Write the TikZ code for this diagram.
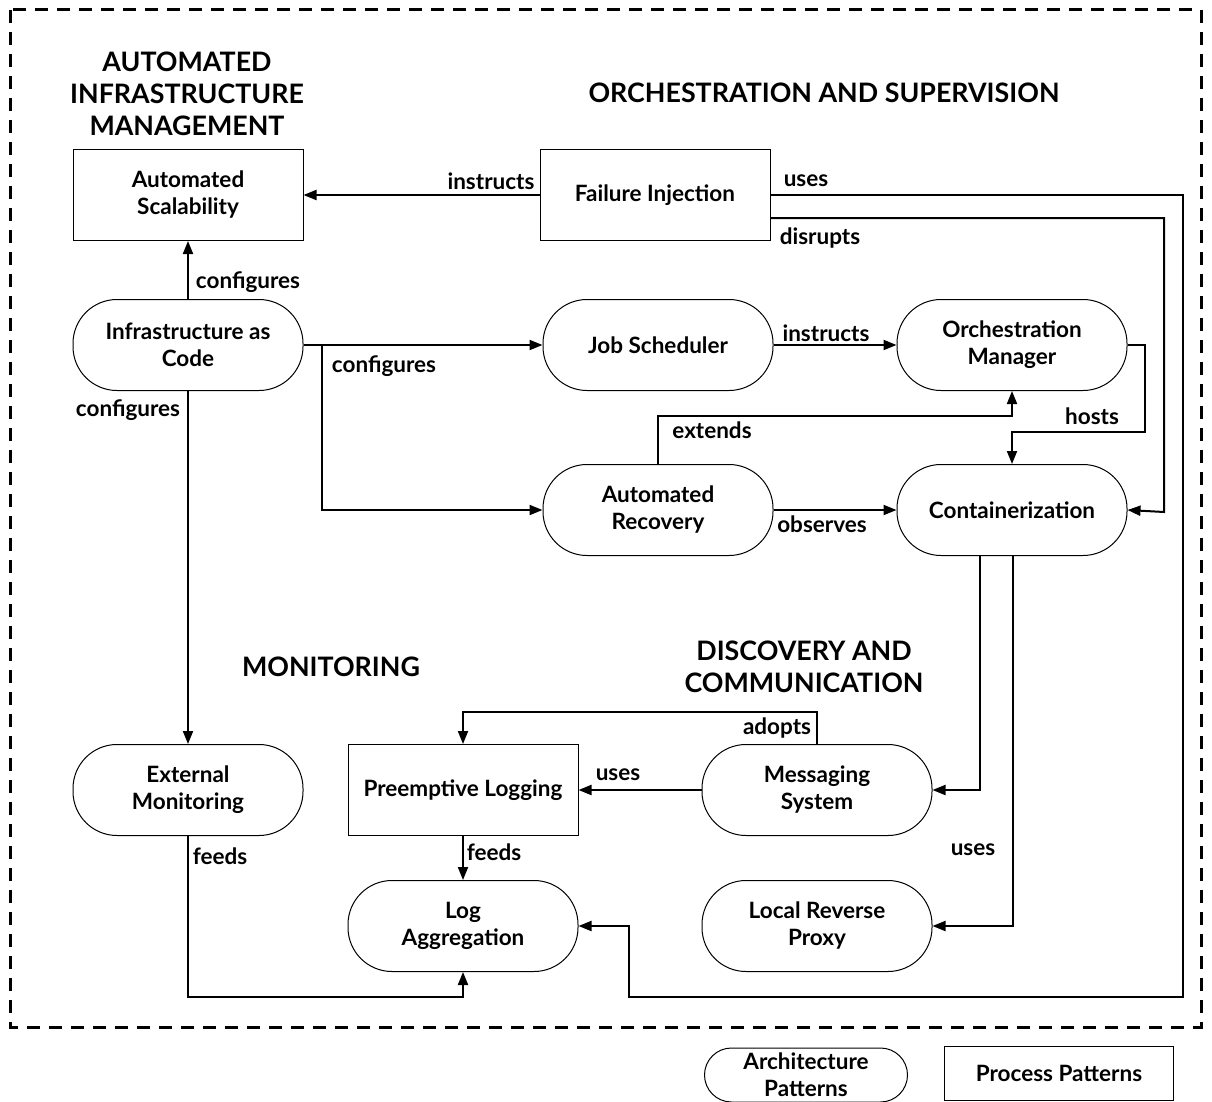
\documentclass[tikz,border=0pt]{standalone}
\usepackage{fontspec}
\setmainfont{Lato}
\usetikzlibrary{arrows.meta}
\begin{document}
\begin{tikzpicture}[x=1pt,y=-1pt,
  arch/.style={draw, line width=1pt, rounded corners=44pt, minimum width=230pt,
    minimum height=91pt, align=center, inner sep=2pt,
    font=\fontsize{22.5}{27}\selectfont\bfseries},
  proc/.style={draw, line width=1pt, minimum width=230pt, minimum height=91pt,
    align=center, inner sep=2pt, font=\fontsize{22.5}{27}\selectfont\bfseries},
  lbl/.style={inner sep=0pt, font=\fontsize{22.5}{27}\selectfont\bfseries},
  ttl/.style={align=center, inner sep=0pt, font=\fontsize{26.8}{32}\selectfont\bfseries},
  conn/.style={line width=2pt, -{Triangle[length=13pt,width=10pt]}}
]
\useasboundingbox (0,0) rectangle (1212,1102);

% outer dashed frame
\draw[line width=3pt, dash pattern=on 13pt off 9pt] (10,10) rectangle (1201,1027);

% group titles
\node[ttl] (tAIM) at (187,94) {AUTOMATED\\INFRASTRUCTURE\\MANAGEMENT};
\node[ttl] (tOS) at (824,93) {ORCHESTRATION AND SUPERVISION};
\node[ttl] (tMON) at (331,667) {MONITORING};
\node[ttl] (tDC) at (804,667) {DISCOVERY AND\\COMMUNICATION};

% pattern nodes
\node[proc] (as) at (188,195) {Automated\\Scalability};
\node[proc] (fi) at (655,195) {Failure Injection};
\node[arch] (iac) at (188,345) {Infrastructure as\\Code};
\node[arch] (js) at (658,345) {Job Scheduler};
\node[arch] (om) at (1012,345) {Orchestration\\Manager};
\node[arch] (ar) at (658,510) {Automated\\Recovery};
\node[arch] (co) at (1012,510) {Containerization};
\node[arch] (em) at (188,790) {External\\Monitoring};
\node[proc] (pl) at (463,790) {Preemptive Logging};
\node[arch] (ms) at (817,790) {Messaging\\System};
\node[arch] (la) at (463,926) {Log\\Aggregation};
\node[arch] (lrp) at (817,926) {Local Reverse\\Proxy};

% legend
\node[arch, minimum width=203pt, minimum height=54pt, rounded corners=27pt] (lgA) at (806,1075) {Architecture\\Patterns};
\node[proc, minimum width=229pt, minimum height=54pt] (lgP) at (1059,1073) {Process Patterns};

% connectors
\draw[conn] (fi.west) -- (as.east);
\draw[conn] (iac.north) -- (as.south);
\draw[conn] (iac.east) -- (js.west);
\coordinate (b1) at (322,345);
\draw[conn] (b1) |- (ar.west);
\draw[conn] (iac.south) -- (em.north);
\draw[conn] (js.east) -- (om.west);
\draw[conn] (ar.north) |- (835,416) -| (om.south);
\draw[conn] (om.east) -| (1145,432) -| (co.north);
\draw[conn] (ar.east) -- (co.west);
\draw[conn] (fi.east) -| (1183,997) -| (629,926) -- (la.east);
\draw[conn] ([yshift=-23pt]fi.east) -| (1164,512) -- (co.east);
\draw[conn] ([xshift=-32pt]co.south) |- (ms.east);
\draw[conn] ([xshift=1pt]co.south) |- (lrp.east);
\draw[conn] (ms.west) -- (pl.east);
\draw[conn] (ms.north) |- (640,712) -| (pl.north);
\draw[conn] (pl.south) -- (la.north);
\draw[conn] (em.south) |- (325,997) -| (la.south);

% connector labels
\node[lbl] (l1) at (491,181) {instructs};
\node[lbl] (l2) at (248,282) {configures};
\node[lbl] (l3) at (384,366) {configures};
\node[lbl] (l4) at (128,410) {configures};
\node[lbl] (l5) at (826,333) {instructs};
\node[lbl] (l6) at (712,430) {extends};
\node[lbl] (l7) at (1092,416) {hosts};
\node[lbl] (l8) at (822,524) {observes};
\node[lbl] (l9) at (806,181) {uses};
\node[lbl] (l10) at (820,238) {disrupts};
\node[lbl] (l11) at (973,850) {uses};
\node[lbl] (l12) at (618,775) {uses};
\node[lbl] (l13) at (777,728) {adopts};
\node[lbl] (l14) at (494,852) {feeds};
\node[lbl] (l15) at (220,856) {feeds};
\end{tikzpicture}
\end{document}
